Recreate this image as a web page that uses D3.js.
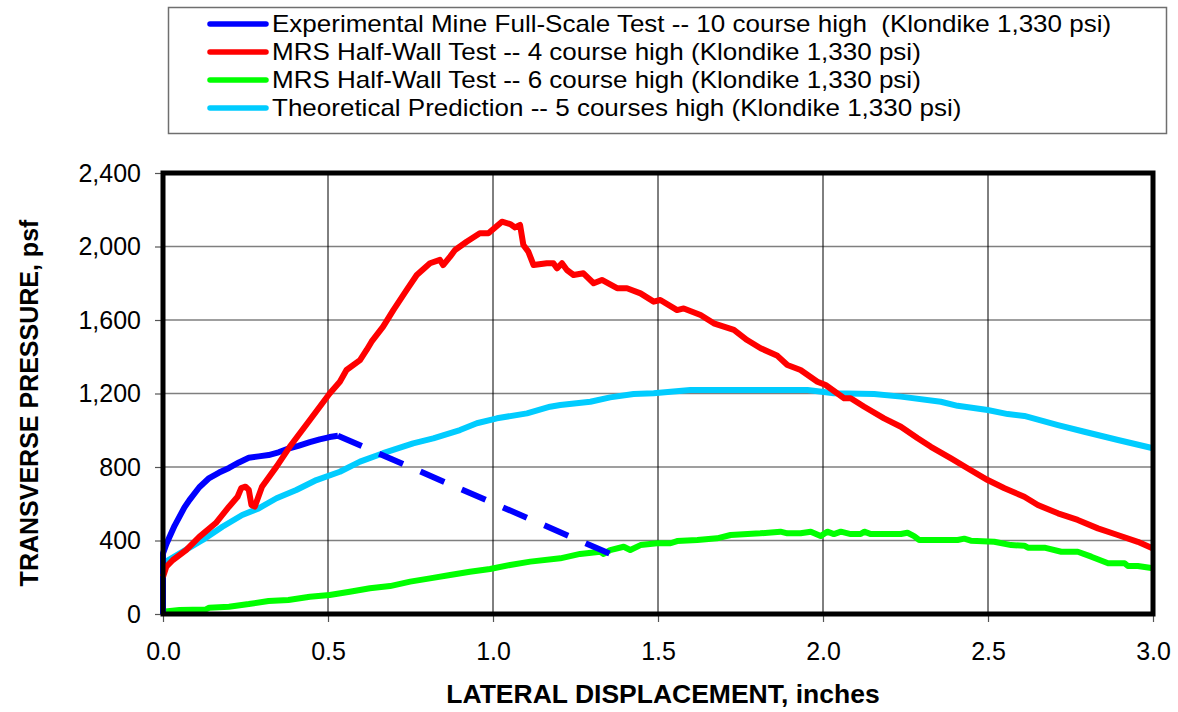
<!DOCTYPE html>
<html>
<head>
<meta charset="utf-8">
<script src="https://cdn.jsdelivr.net/npm/d3@7/dist/d3.min.js"></script>
<style>
  html, body { margin: 0; padding: 0; background: #fff; }
  svg text { font-family: Arial, "Liberation Sans", sans-serif; }
</style>
</head>
<body>
<svg id="chart" width="1178" height="712"></svg>
<script>
// Lateral displacement (inches) vs transverse pressure (psf)
const xTicks = [0.0, 0.5, 1.0, 1.5, 2.0, 2.5, 3.0];
const yTicks = [0, 400, 800, 1200, 1600, 2000, 2400];

const legendLabels = [
  "Experimental Mine Full-Scale Test -- 10 course high  (Klondike 1,330 psi)",
  "MRS Half-Wall Test -- 4 course high (Klondike 1,330 psi)",
  "MRS Half-Wall Test -- 6 course high (Klondike 1,330 psi)",
  "Theoretical Prediction -- 5 courses high (Klondike 1,330 psi)"
];
const seriesColors = ["#0000ff", "#ff0000", "#00ff00", "#00ccff"];

const fullScaleTest = [
  [0,0],[0,20],[0.0,330],[0.01,380],[0.02,420],[0.035,480],[0.05,530],[0.065,580],
  [0.08,620],[0.11,690],[0.14,740],[0.17,770],[0.20,795],[0.23,825],[0.26,850],
  [0.29,858],[0.32,865],[0.35,880],[0.38,900],[0.41,915],[0.445,935],[0.475,950],
  [0.505,963],[0.53,970]
];
// extrapolated unloading branch of the full-scale test
const fullScaleTrend = [[0.53,970],[1.39,300]];

const halfWall4 = [
  [0,203],[0.005,230],[0.01,257],[0.03,294],[0.07,348],[0.11,420],[0.16,495],[0.20,584],
  [0.226,638],[0.237,685],[0.25,693],[0.26,675],[0.268,593],[0.278,584],[0.30,693],
  [0.344,802],[0.384,910],[0.445,1056],[0.505,1200],[0.536,1264],[0.556,1328],
  [0.597,1382],[0.617,1437],[0.632,1482],[0.667,1564],[0.698,1654],[0.738,1763],
  [0.769,1845],[0.809,1909],[0.839,1927],[0.849,1899],[0.87,1945],[0.885,1981],
  [0.92,2026],[0.96,2072],[0.986,2072],[1.027,2135],[1.052,2122],[1.067,2104],
  [1.082,2117],[1.092,2008],[1.107,1972],[1.123,1899],[1.163,1909],[1.183,1909],
  [1.194,1881],[1.209,1909],[1.224,1872],[1.244,1845],[1.274,1854],[1.305,1800],
  [1.33,1818],[1.376,1773],[1.406,1773],[1.447,1745],[1.487,1700],[1.507,1709],
  [1.558,1654],[1.578,1663],[1.629,1627],[1.669,1582],[1.73,1546],[1.77,1491],
  [1.811,1446],[1.862,1405],[1.892,1355],[1.932,1328],[1.983,1264],[2.008,1246],
  [2.064,1174],[2.084,1174],[2.125,1128],[2.185,1065],[2.236,1019],[2.287,956],
  [2.327,910],[2.388,847],[2.438,793],[2.499,729],[2.55,684],[2.61,638],[2.651,593],
  [2.712,548],[2.772,512],[2.833,466],[2.893,430],[2.954,393],[3.0,357]
];

const halfWall6 = [
  [0,12],[0.05,22],[0.13,25],[0.14,34],[0.2,40],[0.26,54],[0.32,71],[0.38,76],
  [0.445,94],[0.505,103],[0.566,121],[0.627,140],[0.688,152],[0.749,176],[0.809,194],
  [0.87,212],[0.93,230],[0.991,245],[1.052,267],[1.113,285],[1.204,303],[1.264,327],
  [1.325,339],[1.335,327],[1.355,348],[1.396,366],[1.416,348],[1.447,375],[1.497,385],
  [1.538,385],[1.558,397],[1.619,403],[1.679,412],[1.72,430],[1.81,439],[1.871,448],
  [1.892,439],[1.932,439],[1.963,448],[1.993,424],[2.013,448],[2.033,435],[2.054,448],
  [2.084,435],[2.114,435],[2.125,448],[2.145,435],[2.236,435],[2.256,442],[2.276,424],
  [2.291,403],[2.408,403],[2.428,410],[2.448,399],[2.519,393],[2.57,375],[2.61,372],
  [2.621,361],[2.671,361],[2.722,339],[2.772,339],[2.813,312],[2.864,276],[2.914,276],
  [2.924,261],[2.954,261],[3.0,249]
];

const theoretical5 = [
  [0,276],[0.06,339],[0.12,403],[0.18,475],[0.24,539],[0.29,575],[0.344,630],
  [0.404,675],[0.465,729],[0.536,774],[0.597,829],[0.667,875],[0.758,929],[0.819,956],
  [0.9,1001],[0.951,1038],[1.012,1065],[1.103,1092],[1.173,1128],[1.204,1137],
  [1.295,1155],[1.355,1179],[1.426,1197],[1.487,1201],[1.598,1219],[1.953,1219],
  [2.033,1201],[2.155,1197],[2.236,1183],[2.357,1155],[2.408,1133],[2.499,1110],
  [2.56,1088],[2.61,1078],[2.712,1028],[2.792,992],[2.894,947],[3.0,902]
];

const svg = d3.select("#chart");
const plot = { left: 163, right: 1153, top: 173, bottom: 614 };

const x = d3.scaleLinear().domain([0, 3]).range([plot.left, plot.right]);
const y = d3.scaleLinear().domain([0, 2400]).range([plot.bottom, plot.top]);

// gridlines
const grid = svg.append("g");
grid.selectAll("line.h").data(yTicks.slice(1, -1)).join("line")
  .attr("x1", plot.left).attr("x2", plot.right)
  .attr("y1", d => y(d)).attr("y2", d => y(d))
  .attr("stroke", "#7f7f7f").attr("stroke-width", 1.5);
grid.selectAll("line.v").data(xTicks.slice(1, -1)).join("line")
  .attr("y1", plot.top).attr("y2", plot.bottom)
  .attr("x1", d => x(d)).attr("x2", d => x(d))
  .attr("stroke", "#000").attr("stroke-width", 1);

// axes
const yAxis = svg.append("g")
  .attr("transform", `translate(${plot.left},0)`)
  .call(d3.axisLeft(y).tickValues(yTicks).tickSize(8).tickPadding(14)
    .tickFormat(d3.format(",")));
const xAxis = svg.append("g")
  .attr("transform", `translate(0,${plot.bottom})`)
  .call(d3.axisBottom(x).tickValues(xTicks).tickSize(8).tickPadding(20)
    .tickFormat(d3.format(".1f")));
[yAxis, xAxis].forEach(a => {
  a.select(".domain").remove();
  a.selectAll(".tick line").attr("stroke", "#555").attr("stroke-width", 1.2);
  a.selectAll(".tick text").attr("font-size", 25).attr("fill", "#000")
    .attr("font-family", "Arial, 'Liberation Sans', sans-serif");
});

// series
const line = d3.line().x(d => x(d[0])).y(d => y(d[1]));
const lines = svg.append("g").attr("fill", "none")
  .attr("stroke-width", 6).attr("stroke-linejoin", "round");

lines.append("path").datum(theoretical5).attr("d", line).attr("stroke", seriesColors[3]);
lines.append("path").datum(halfWall6).attr("d", line).attr("stroke", seriesColors[2]);
lines.append("path").datum(fullScaleTrend).attr("d", line).attr("stroke", seriesColors[0])
  .attr("stroke-dasharray", "26,19");
lines.append("path").datum(fullScaleTest).attr("d", line).attr("stroke", seriesColors[0]);
lines.append("path").datum(halfWall4).attr("d", line).attr("stroke", seriesColors[1]);

// plot frame
svg.append("rect")
  .attr("x", plot.left).attr("y", plot.top)
  .attr("width", plot.right - plot.left).attr("height", plot.bottom - plot.top)
  .attr("fill", "none").attr("stroke", "#000").attr("stroke-width", 5);

// axis titles
svg.append("text")
  .attr("x", 663).attr("y", 703)
  .attr("text-anchor", "middle").attr("font-size", 26.5).attr("font-weight", "bold")
  .text("LATERAL DISPLACEMENT, inches");
svg.append("text")
  .attr("transform", `translate(38,403) rotate(-90)`)
  .attr("text-anchor", "middle").attr("font-size", 25).attr("font-weight", "bold")
  .text("TRANSVERSE PRESSURE, psf");

// legend: slightly narrow-set text so the four rows stay clear of each other
const legend = svg.append("g");
legend.append("rect")
  .attr("x", 168.5).attr("y", 7.5).attr("width", 998).attr("height", 126)
  .attr("fill", "#fff").attr("stroke", "#6f6f6f").attr("stroke-width", 1.5);
const rowY = [24, 52, 80, 108];
legendLabels.forEach((label, i) => {
  legend.append("line")
    .attr("x1", 210).attr("x2", 266).attr("y1", rowY[i]).attr("y2", rowY[i])
    .attr("stroke", seriesColors[i]).attr("stroke-width", 5.5).attr("stroke-linecap", "round");
  const t = legend.append("text")
    .attr("x", 272).attr("y", rowY[i]).attr("dy", "0.35em")
    .attr("font-size", 24).style("white-space", "pre")
    .text(label);
  const w = t.node().getComputedTextLength();
  t.attr("textLength", w * 26 / 24).attr("lengthAdjust", "spacingAndGlyphs");
});
</script>
</body>
</html>
